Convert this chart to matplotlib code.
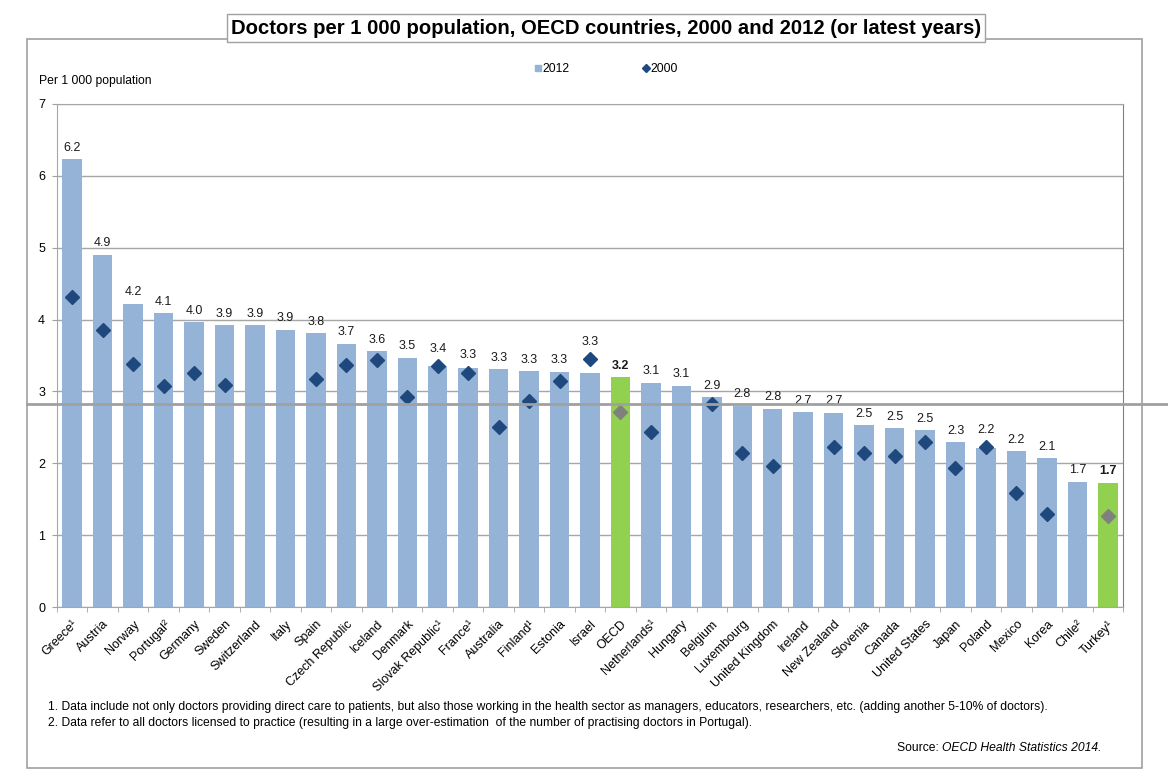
import numpy as np
import matplotlib.pyplot as plt
from matplotlib.lines import Line2D
from matplotlib.patches import Rectangle

plt.rcParams['font.family'] = ['Liberation Sans', 'DejaVu Sans']

countries = ['Greece¹', 'Austria', 'Norway', 'Portugal²', 'Germany', 'Sweden',
             'Switzerland', 'Italy', 'Spain', 'Czech Republic', 'Iceland', 'Denmark',
             'Slovak Republic¹', 'France¹', 'Australia', 'Finland¹', 'Estonia', 'Israel',
             'OECD', 'Netherlands¹', 'Hungary', 'Belgium', 'Luxembourg', 'United Kingdom',
             'Ireland', 'New Zealand', 'Slovenia', 'Canada', 'United States', 'Japan',
             'Poland', 'Mexico', 'Korea', 'Chile²', 'Turkey¹']

v2012 = [6.23, 4.90, 4.22, 4.09, 3.96, 3.92, 3.92, 3.86, 3.81, 3.66, 3.56, 3.47,
         3.36, 3.32, 3.31, 3.28, 3.27, 3.26, 3.20, 3.12, 3.08, 2.92, 2.80, 2.76,
         2.71, 2.70, 2.53, 2.49, 2.46, 2.29, 2.21, 2.17, 2.07, 1.74, 1.73]

v2000 = [4.32, 3.85, 3.38, 3.08, 3.26, 3.09, np.nan, np.nan, 3.17, 3.37, 3.44, 2.92,
         3.35, 3.26, 2.50, 2.87, 3.14, 3.45, 2.72, 2.44, np.nan, 2.83, 2.15, 1.96,
         np.nan, 2.23, 2.15, 2.10, 2.29, 1.93, 2.22, 1.59, 1.30, np.nan, 1.26]

highlight = ['OECD', 'Turkey¹']
ref_line = 2.83

BLUE = '#95B3D7'
GREEN = '#92D050'
NAVY = '#1F497D'
GREY = '#808080'

W, H = 1168, 772
fig = plt.figure(figsize=(W / 100, H / 100), dpi=100)

# outer frame
fig.patches.append(Rectangle((27 / W, 1 - 768 / H), (1142 - 27) / W, (768 - 39) / H,
                             transform=fig.transFigure, fill=False,
                             edgecolor='#A0A0A0', linewidth=1.2))

ax = fig.add_axes([57 / W, 1 - 607 / H, (1123 - 57) / W, (607 - 104) / H])

x = np.arange(len(countries))
is_hl = np.array([c in highlight for c in countries])
bar_colors = [GREEN if h else BLUE for h in is_hl]
ax.bar(x, v2012, width=0.64, color=bar_colors, zorder=2)

d = np.array(v2000)
ax.plot(x[~is_hl], d[~is_hl], linestyle='none', marker='D', ms=7.5,
        color=NAVY, zorder=3)
ax.plot(x[is_hl], d[is_hl], linestyle='none', marker='D', ms=7.5,
        color=GREY, zorder=3)

for i, (v, dv, h) in enumerate(zip(v2012, v2000, is_hl)):
    top = v if np.isnan(dv) else max(v, dv + 0.08)
    ax.annotate(f'{v:.1f}', (i, top), xytext=(0, 4), textcoords='offset points',
                ha='center', va='bottom', fontsize=9,
                fontweight='bold' if h else 'normal', color='#1a1a1a')

ax.set_xlim(-0.5, len(countries) - 0.5)
ax.set_ylim(0, 7)
ax.set_yticks(range(0, 8))
ax.yaxis.grid(True, color='#A6A6A6', linewidth=1)
ax.set_axisbelow(True)
ax.tick_params(axis='y', length=3.6, color='#A0A0A0', labelsize=9, pad=5)

ax.set_xticks(x)
ax.set_xticklabels(countries, rotation=45, ha='right', rotation_mode='anchor',
                   fontsize=9)
ax.tick_params(axis='x', which='major', length=0, pad=8)
ax.set_xticks(np.arange(-0.5, len(countries) + 0.5), minor=True)
ax.tick_params(axis='x', which='minor', length=3.6, color='#A0A0A0')

for s in ['left', 'bottom', 'top']:
    ax.spines[s].set_color('#A6A6A6')
ax.spines['right'].set_color('#808080')

# horizontal reference line across the whole figure
ax.axhline(ref_line, xmin=-30 / 1066, xmax=(1168 - 57) / 1066, color='#A0A0A0',
           linewidth=2, clip_on=False, zorder=4)

# title
fig.text(606 / W, 1 - 28 / H,
         'Doctors per 1 000 population, OECD countries, 2000 and 2012 (or latest years)',
         ha='center', va='center', fontsize=14.6, fontweight='bold',
         bbox=dict(boxstyle='square,pad=0.2', facecolor='white', edgecolor='#A0A0A0'))

fig.text(39 / W, 1 - 81 / H, 'Per 1 000 population', ha='left', va='center', fontsize=8.7)

handles = [Line2D([], [], linestyle='none', marker='s', ms=5, color=BLUE),
           Line2D([], [], linestyle='none', marker='D', ms=4, color=NAVY)]
fig.legend(handles, ['2012', '2000'], loc='center', bbox_to_anchor=(606 / W, 1 - 69 / H),
           ncol=2, frameon=False, fontsize=8.7, handlelength=0.6, handletextpad=0.1,
           columnspacing=6)

fig.text(48 / W, 1 - 707 / H,
         '1. Data include not only doctors providing direct care to patients, but also those working '
         'in the health sector as managers, educators, researchers, etc. (adding another 5-10% of doctors).',
         ha='left', va='center', fontsize=8.7)
fig.text(48 / W, 1 - 723 / H,
         '2. Data refer to all doctors licensed to practice (resulting in a large over-estimation '
         ' of the number of practising doctors in Portugal).',
         ha='left', va='center', fontsize=8.7)

src = fig.text(1102 / W, 1 - 748 / H, 'OECD Health Statistics 2014.', ha='right', va='center',
               fontsize=8.7, style='italic')
fig.canvas.draw()
bb = src.get_window_extent()
fig.text(bb.x0 / W, 1 - 748 / H, 'Source: ', ha='right', va='center', fontsize=8.7)

fig.savefig('out.png', dpi=100)
